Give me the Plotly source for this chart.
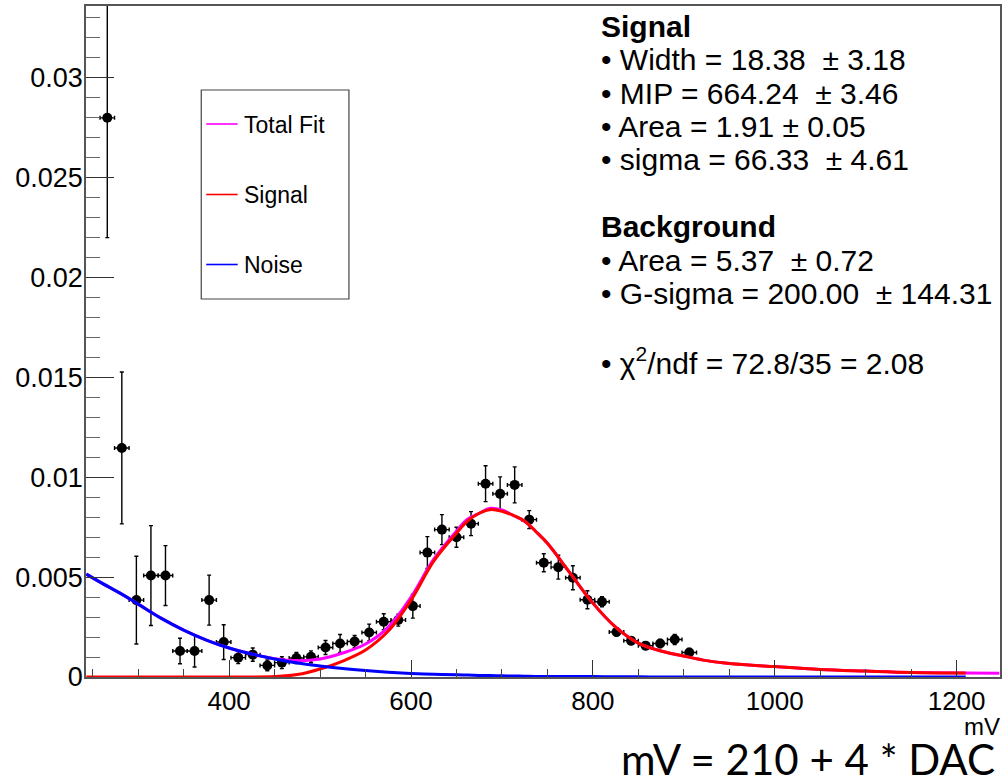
import plotly.graph_objects as go

# ---------------- data ----------------
bin_mv = [266, 282, 298, 314, 330, 346, 362, 378, 394, 410, 426, 442, 458, 474,
          490, 506, 522, 538, 554, 570, 586, 602, 618, 634, 650, 666, 682, 698,
          714, 730, 746, 762, 778, 794, 810, 826, 842, 858, 874, 890, 906]
counts = [0.0280, 0.01147, 0.00385, 0.00508, 0.00508, 0.00130, 0.00130, 0.00385,
          0.00175, 0.00097, 0.00112, 0.00058, 0.00072, 0.00095, 0.00101, 0.00148,
          0.00168, 0.00178, 0.00223, 0.00277, 0.00285, 0.00355, 0.00623, 0.00738,
          0.00700, 0.00768, 0.00968, 0.00917, 0.00962, 0.00788, 0.00572, 0.00550,
          0.00497, 0.00387, 0.00377, 0.00225, 0.00182, 0.00157, 0.00168, 0.00188,
          0.00123]
count_err = [0.0060, 0.0038, 0.0022, 0.0025, 0.0015, 0.00064, 0.0008, 0.00125,
             0.00087, 0.0003, 0.00033, 0.00027, 0.0003, 0.00028, 0.0003, 0.00035,
             0.00045, 0.0003, 0.00042, 0.0004, 0.0003, 0.0006, 0.0008, 0.00075,
             0.0005, 0.0006, 0.0009, 0.00085, 0.0009, 0.00045, 0.00045, 0.0006,
             0.0006, 0.00045, 0.00025, 0.0002, 0.0002, 0.0002, 0.0002, 0.00025,
             0.0002]
half_bin = 8

fit_mv = [243, 260, 280, 300, 325, 350, 375, 400, 425, 450, 475, 500, 525, 550,
          575, 600, 625, 650, 662, 675, 687, 700, 712, 725, 737, 750, 775, 800,
          825, 850, 875, 900, 925, 950, 1000, 1050, 1100, 1150, 1210]
noise_fit = [0.00515, 0.0047, 0.0042, 0.00365, 0.00295, 0.00235, 0.00185, 0.00145,
             0.00115, 0.0009, 0.0007, 0.00055, 0.00042, 0.00032, 0.00024, 0.00018,
             0.00014, 0.00011, 0.0001, 0.00008, 0.00007, 0.00006, 0.00005, 0.00004,
             0.00003, 0.00003, 0.00002, 0.00002, 0.00001, 0.00001, 0.0, 0.0, 0.0,
             0.0, 0.0, 0.0, 0.0, 0.0, 0.0]
signal_fit = [0.0, 0.0, 0.0, 0.0, 0.0, 0.0, 0.0, 0.0, 0.0, 0.00002, 0.00012, 0.0004,
              0.0008, 0.00135, 0.0023, 0.00385, 0.0058, 0.0072, 0.0078, 0.0082,
              0.00838, 0.0083, 0.0081, 0.0078, 0.0073, 0.0067, 0.0052, 0.0037,
              0.0025, 0.0017, 0.0013, 0.00105, 0.00082, 0.00068, 0.00052, 0.00038,
              0.0003, 0.00023, 0.0002]
total_mv = fit_mv + [1247]
total_fit = [0.00515, 0.0047, 0.0042, 0.00365, 0.00295, 0.00235, 0.00185, 0.00145,
             0.00115, 0.00092, 0.00082, 0.0009, 0.0012, 0.00165, 0.0025, 0.004,
             0.0059, 0.0073, 0.0079, 0.0082, 0.00845, 0.00836, 0.0081, 0.0078,
             0.0073, 0.0067, 0.0052, 0.0037, 0.0025, 0.0017, 0.0013, 0.00105,
             0.00082, 0.00068, 0.00052, 0.00038, 0.0003, 0.00023, 0.0002, 0.00019]

y_tickvals = [0, 0.005, 0.01, 0.015, 0.02, 0.025, 0.03]
y_ticktext = ["0", "0.005", "0.01", "0.015", "0.02", "0.025", "0.03"]
x_tickvals = [400, 600, 800, 1000, 1200]

legend_items = [("Total Fit", "#ff00ff"), ("Signal", "#ff0000"), ("Noise", "#0000ff")]
stats_lines = [
    "<b>Signal</b>",
    "\u2022 Width = 18.38  \u00b1 3.18",
    "\u2022 MIP = 664.24  \u00b1 3.46",
    "\u2022 Area = 1.91 \u00b1 0.05",
    "\u2022 sigma = 66.33  \u00b1 4.61",
    "",
    "<b>Background</b>",
    "\u2022 Area = 5.37  \u00b1 0.72",
    "\u2022 G-sigma = 200.00  \u00b1 144.31",
    "",
    "\u2022 \u03c7<sup>2</sup>/ndf = 72.8/35 = 2.08",
]

# ---------------- layout geometry (pixels) ----------------
W, H = 1005, 779
L, R, T, B = 86, 1002, 6, 677


def px(xp):
    return (xp - L) / (R - L)


def py(yp):
    return (B - yp) / (B - T)


FONT = "Liberation Sans, Arial, Helvetica, sans-serif"

fig = go.Figure()

fig.add_trace(go.Scatter(
    x=bin_mv, y=counts, mode="markers",
    marker=dict(color="black", size=10, symbol="circle"),
    error_y=dict(type="data", array=count_err, color="black", thickness=1.4, width=2),
    error_x=dict(type="constant", value=half_bin, color="black", thickness=1.4, width=2),
    showlegend=False, hoverinfo="x+y",
))
fig.add_trace(go.Scatter(x=total_mv, y=total_fit, mode="lines",
                         line=dict(color="#ff00ff", width=3, shape="spline"),
                         showlegend=False))
fig.add_trace(go.Scatter(x=fit_mv, y=signal_fit, mode="lines",
                         line=dict(color="#ff0000", width=3, shape="spline"),
                         showlegend=False))
fig.add_trace(go.Scatter(x=fit_mv, y=noise_fit, mode="lines",
                         line=dict(color="#0000ff", width=3, shape="spline"),
                         showlegend=False))

shapes = []
annotations = []

# legend box
shapes.append(dict(type="rect", xref="paper", yref="paper",
                   x0=px(201.5), x1=px(349.5), y0=py(299), y1=py(90),
                   line=dict(color="#444", width=1.2), fillcolor="white", layer="above"))
leg_y = [124, 194.5, 264.5]
for (name, col), yy in zip(legend_items, leg_y):
    shapes.append(dict(type="line", xref="paper", yref="paper",
                       x0=px(206.5), x1=px(238), y0=py(yy), y1=py(yy),
                       line=dict(color=col, width=1.6), layer="above"))
    annotations.append(dict(xref="paper", yref="paper", x=px(242), y=py(yy + 1),
                            xanchor="left", yanchor="middle", text=name, showarrow=False,
                            font=dict(family=FONT, size=23, color="black")))

# stats text (one annotation per line)
base0, step = 36.7, 33.43
for i, line in enumerate(stats_lines):
    if not line:
        continue
    baseline = base0 + i * step
    annotations.append(dict(xref="paper", yref="paper", x=px(600), y=py(baseline - 10.5),
                            xanchor="left", yanchor="middle", text=line, showarrow=False,
                            font=dict(family=FONT, size=30, color="black")))

# axis title
annotations.append(dict(xref="paper", yref="paper", x=px(1004), y=py(726),
                        xanchor="right", yanchor="middle", text="mV", showarrow=False,
                        font=dict(family=FONT, size=24, color="black")))
# bottom note
annotations.append(dict(xref="paper", yref="paper", x=px(999), y=py(759),
                        xanchor="right", yanchor="middle", text="mV = 210 + 4 * DAC",
                        showarrow=False,
                        font=dict(family="Lato, Open Sans, sans-serif", size=42, color="black")))

fig.update_layout(
    width=W, height=H,
    margin=dict(l=L, r=W - R, t=T, b=H - B, pad=0),
    paper_bgcolor="white", plot_bgcolor="white",
    shapes=shapes, annotations=annotations,
    showlegend=False,
)
fig.update_xaxes(
    range=[242.6, 1247.7], showgrid=False, zeroline=False,
    tickmode="array", tickvals=x_tickvals,
    ticks="inside", ticklen=17, tickwidth=1, tickcolor="#333",
    minor=dict(ticks="inside", dtick=50, tick0=0, ticklen=8, tickwidth=1, tickcolor="#444"),
    showline=True, mirror=True, linecolor="#555", linewidth=1.5,
    tickfont=dict(family=FONT, size=26, color="black"),
)
fig.update_yaxes(
    range=[0, 0.0336], showgrid=False, zeroline=False,
    tickmode="array", tickvals=y_tickvals, ticktext=y_ticktext,
    ticks="inside", ticklen=28, tickwidth=1, tickcolor="#333",
    minor=dict(ticks="inside", dtick=0.001, tick0=0, ticklen=14, tickwidth=1, tickcolor="#666"),
    showline=True, mirror=True, linecolor="#555", linewidth=1.5,
    tickfont=dict(family=FONT, size=27, color="black"),
    ticklabelstandoff=-4,
)

fig.write_html(
    "out.html",
    config={"displayModeBar": False},
    post_script="document.body.style.margin='0';document.body.style.overflow='hidden';",
)
